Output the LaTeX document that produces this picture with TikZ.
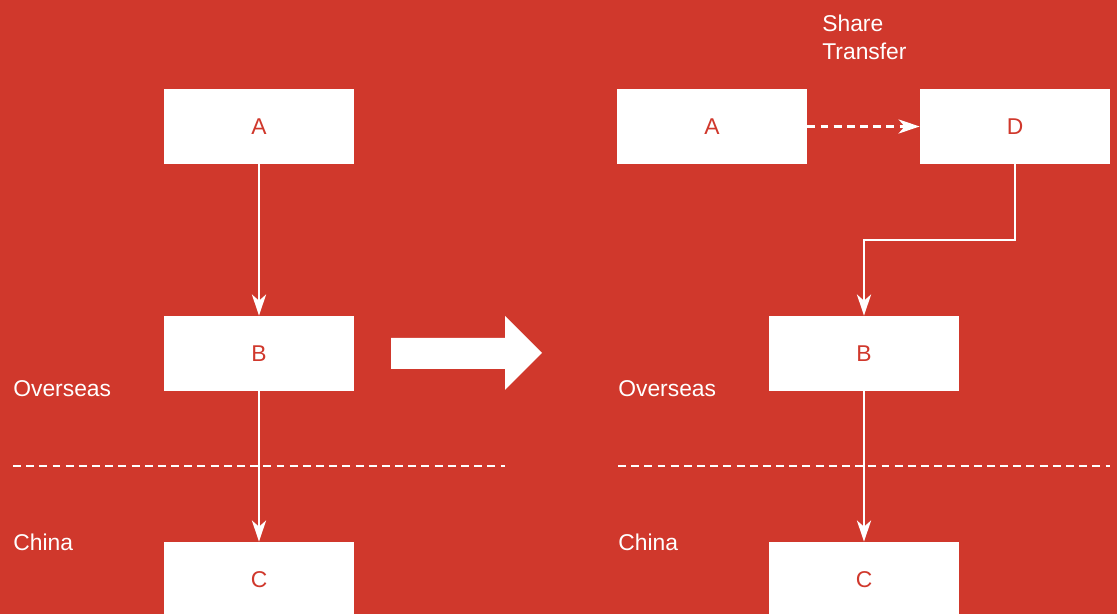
\documentclass[tikz,border=0pt]{standalone}
\usepackage{fontspec}
\setmainfont{Liberation Sans}
\usetikzlibrary{arrows.meta}
\definecolor{bgred}{RGB}{208,56,44}
\tikzstyle{box}=[rectangle, fill=white, text=bgred, minimum width=3.8cm, minimum height=1.5cm, inner sep=0pt, font=\fontsize{13}{15.6}\selectfont]
\tikzstyle{lbl}=[text=white, anchor=west, inner sep=0pt, font=\fontsize{13}{16}\selectfont]
\tikzstyle{link}=[draw=white, line width=1.5pt, -{Stealth[length=12pt, width=8pt, inset=3.5pt]}]
\tikzstyle{border}=[draw=white, line width=1.5pt, dash pattern=on 4.5pt off 3pt]

\begin{document}
\begin{tikzpicture}[x=0.02cm, y=-0.02cm]
    \useasboundingbox (0,0) rectangle (1117,614);
    \clip (0,0) rectangle (1117,614);
    \fill[bgred] (0,0) rectangle (1117,614);
    % before
    \node[box] (lA) at (259,126.5) {A};
    \node[box] (lB) at (259,353.5) {B};
    \node[box] (lC) at (259,579.5) {C};
    \node[lbl] (lOver) at (13,389) {Overseas};
    \node[lbl] (lChina) at (13,542) {China};
    \coordinate (lL) at (13,466);
    \coordinate (lR) at (505,466);
    \draw[border] (lL) -- (lR);
    \draw[link] (lA) -- (lB);
    \draw[link] (lB) -- (lC);
    % big arrow
    \fill[white] (391,338) -- (505,338) -- (505,316) -- (542,353) -- (505,390) -- (505,369) -- (391,369) -- cycle;
    % after
    \node[box] (rA) at (712,126.5) {A};
    \node[box] (rD) at (1015,126.5) {D};
    \node[box] (rB) at (864,353.5) {B};
    \node[box] (rC) at (864,579.5) {C};
    \node[lbl, align=left] (share) at (822,37) {Share\\Transfer};
    \node[lbl] (rOver) at (618,389) {Overseas};
    \node[lbl] (rChina) at (618,542) {China};
    \coordinate (rL) at (618,466);
    \coordinate (rR) at (1110,466);
    \coordinate (bend) at (1015,240);
    \draw[border] (rL) -- (rR);
    \draw[link, dash pattern=on 4.5pt off 3pt] (rA) -- (rD);
    \draw[link] (rD.south) -- (bend) -| (rB.north);
    \draw[link] (rB) -- (rC);
\end{tikzpicture}
\end{document}
